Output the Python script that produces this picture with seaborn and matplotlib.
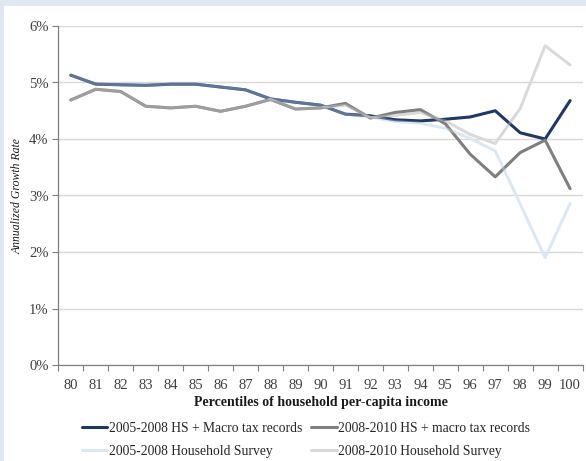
import numpy as np
import pandas as pd
import matplotlib
matplotlib.use("Agg")
import matplotlib.pyplot as plt
from matplotlib.patches import Rectangle
from matplotlib.ticker import FixedLocator, NullFormatter
import seaborn as sns

percentiles = list(range(80, 101))
hs_macro_0508 = [5.13, 4.97, 4.96, 4.95, 4.97, 4.97, 4.92, 4.87, 4.71, 4.65, 4.60,
                 4.44, 4.41, 4.34, 4.32, 4.35, 4.39, 4.50, 4.11, 4.00, 4.68]
hs_macro_0810 = [4.69, 4.88, 4.84, 4.58, 4.55, 4.58, 4.49, 4.58, 4.70, 4.53, 4.55,
                 4.63, 4.37, 4.47, 4.52, 4.27, 3.73, 3.33, 3.76, 3.98, 3.12]
hs_0508 = [5.13, 4.97, 4.96, 4.95, 4.97, 4.97, 4.92, 4.87, 4.71, 4.65, 4.60,
           4.44, 4.39, 4.31, 4.28, 4.19, 4.01, 3.79, 2.85, 1.90, 2.86]
hs_0810 = [4.69, 4.88, 4.84, 4.58, 4.55, 4.58, 4.49, 4.58, 4.70, 4.53, 4.55,
           4.60, 4.38, 4.42, 4.47, 4.32, 4.08, 3.92, 4.54, 5.65, 5.31]

names = ["2005-2008 HS + Macro tax records", "2008-2010 HS + macro tax records",
         "2005-2008 Household Survey", "2008-2010 Household Survey"]
colors = ["#1f3864", "#7f7f7f", "#dbe8f3", "#d9d9d9"]
series = [hs_macro_0508, hs_macro_0810, hs_0508, hs_0810]

df = pd.DataFrame({
    "pct": percentiles * 4,
    "val": np.concatenate(series) / 100.0,
    "series": np.repeat(names, len(percentiles)),
})

sns.set_theme(style="white")
plt.rcParams["font.family"] = ["Liberation Serif", "DejaVu Serif"]

fig = plt.figure(figsize=(5.86, 4.61), dpi=100)
fig.patch.set_facecolor("#dfe8f0")
fig.add_artist(Rectangle((4 / 586, 0), 1, 1 - 6 / 461, transform=fig.transFigure,
                         facecolor="white", edgecolor="none", zorder=0))
ax = fig.add_axes([58.3 / 586, 1 - 365 / 461, (582.6 - 58.3) / 586, (365 - 26) / 461])
ax.set_facecolor("none")

pal = dict(zip(names, colors))
light = names[2:]
dark = names[:2]
# light lines underneath (full colour)
sns.lineplot(data=df[df.series.isin(light)], x="pct", y="val", hue="series",
             hue_order=light, palette=pal, lw=2.0, ax=ax, legend=False, zorder=2)
# dark lines
sns.lineplot(data=df[df.series.isin(dark)], x="pct", y="val", hue="series",
             hue_order=dark, palette=pal, lw=2.2, ax=ax, legend=False, zorder=3)
# light lines on top, semi-transparent
sns.lineplot(data=df[df.series.isin(light)], x="pct", y="val", hue="series",
             hue_order=light, palette=pal, lw=2.0, alpha=0.35, ax=ax, legend=False, zorder=4)

ax.set_ylim(0, 0.06)
ax.set_xlim(79.5, 100.5)
ax.set_yticks(np.arange(0, 0.061, 0.01))
ax.set_yticklabels([f"{i}%" for i in range(7)])
ax.yaxis.grid(True, color="#d9d9d9", lw=1.0)
ax.set_axisbelow(True)

ax.xaxis.set_major_locator(FixedLocator(np.arange(79.5, 100.6, 1)))
ax.xaxis.set_major_formatter(NullFormatter())
ax.xaxis.set_minor_locator(FixedLocator(percentiles))
ax.set_xticklabels([str(p) for p in percentiles], minor=True)
ax.tick_params(axis="x", which="major", length=4, width=0.8, color="#808080", direction="out", bottom=True)
ax.tick_params(axis="x", which="minor", length=0, pad=10, labelsize=10.5, labelcolor="#404040")
ax.tick_params(axis="y", length=4, width=0.8, color="#808080", direction="out", left=True,
               labelsize=10.5, labelcolor="#404040", pad=3)

for s in ["top", "right"]:
    ax.spines[s].set_visible(False)
for s in ["left", "bottom"]:
    ax.spines[s].set_color("#808080")
    ax.spines[s].set_linewidth(0.9)

ax.set_xlabel("Percentiles of household per-capita income", fontsize=10,
              fontweight="bold", color="#1a1a1a", labelpad=3)
ax.set_ylabel("Annualized Growth Rate", fontsize=8.5, style="italic", color="#1a1a1a", labelpad=4)

order = [0, 2, 1, 3]
handles = [plt.Line2D([], [], color=colors[i], lw=2.2) for i in order]
labels = [names[i] for i in order]
fig.legend(handles, labels, loc="center", bbox_to_anchor=(306 / 586, 1 - 440 / 461), ncol=2,
           frameon=False, fontsize=9.8, handlelength=1.85, handletextpad=0.1,
           columnspacing=0.7, labelspacing=0.7, labelcolor="#262626", borderpad=0)

fig.savefig("out.png", dpi=100, facecolor=fig.get_facecolor())
